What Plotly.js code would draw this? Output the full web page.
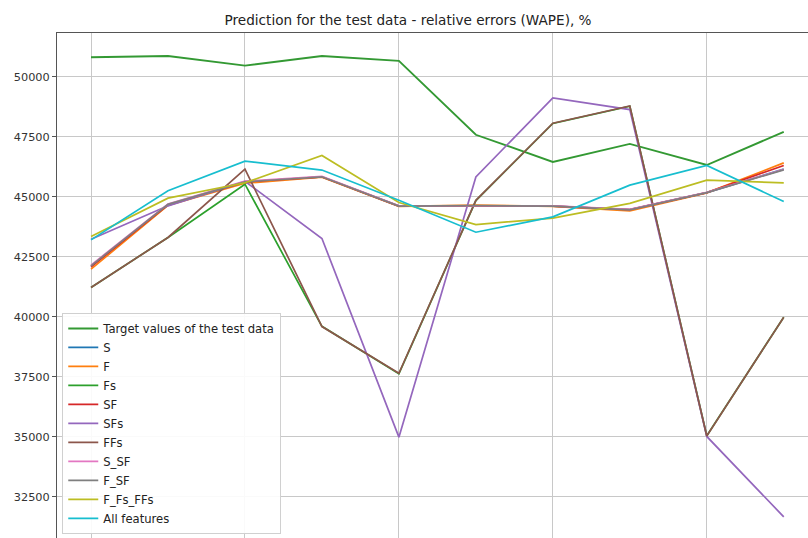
<!DOCTYPE html>
<html>
<head>
<meta charset="utf-8">
<script src="https://cdn.plot.ly/plotly-3.0.1.min.js"></script>
<style>html,body{margin:0;padding:0;background:#fff;}#chart{width:808px;height:538px;}</style>
</head>
<body>
<div id="chart"></div>
<script>
const xIdx = [0, 1, 2, 3, 4, 5, 6, 7, 8, 9];
const seriesNames = ["Target values of the test data", "S", "F", "Fs", "SF", "SFs", "FFs", "S_SF", "F_SF", "F_Fs_FFs", "All features"];
const target   = [50810, 50860, 50460, 50860, 50660, 47580, 46450, 47200, 46320, 47700];
const sS       = [42100, 44650, 45600, 45820, 44610, 44620, 44610, 44460, 45170, 46150];
const sF       = [41980, 44640, 45560, 45810, 44600, 44650, 44600, 44410, 45160, 46410];
const sFs      = [41220, 43300, 45520, 39600, 37620, 44840, 48050, 48770, 35040, 39980];
const sSF      = [42080, 44660, 45620, 45830, 44610, 44620, 44610, 44460, 45170, 46300];
const sSFs     = [43230, 44620, 45640, 43260, 34980, 45820, 49120, 48630, 35010, 31660];
const sFFs     = [41220, 43300, 46150, 39590, 37640, 44850, 48060, 48780, 35030, 39980];
const sS_SF    = [42150, 44700, 45650, 45850, 44620, 44620, 44620, 44470, 45180, 46140];
const sF_SF    = [42120, 44680, 45620, 45830, 44610, 44630, 44610, 44450, 45170, 46120];
const sFFsFFs  = [43340, 44940, 45580, 46720, 44760, 43840, 44110, 44720, 45690, 45580];
const sAll     = [43200, 45250, 46480, 46110, 44850, 43520, 44160, 45480, 46300, 44800];
const gridTicks = [0, 2, 4, 6, 8];
const yTicks = [32500, 35000, 37500, 40000, 42500, 45000, 47500, 50000];

const seriesValues = [target, sS, sF, sFs, sSF, sSFs, sFFs, sS_SF, sF_SF, sFFsFFs, sAll];
const colors = ["#339933", "#1f77b4", "#ff7f0e", "#2ca02c", "#d62728", "#9467bd", "#8c564b", "#e377c2", "#7f7f7f", "#bcbd22", "#17becf"];

const traces = seriesValues.map((vals, i) => ({
  x: xIdx, y: vals, type: "scatter", mode: "lines", name: seriesNames[i],
  line: {color: colors[i], width: i === 0 ? 1.9 : 1.7}
}));

const layout = {
  width: 808, height: 538,
  margin: {l: 57, r: 0, t: 33, b: 0},
  paper_bgcolor: "#fff", plot_bgcolor: "#fff",
  font: {family: "DejaVu Sans, sans-serif", color: "#333", size: 11},
  title: {text: "Prediction for the test data - relative errors (WAPE), %", x: 0.505, xanchor: "center", y: 0.962, yanchor: "middle", font: {size: 13.6, color: "#222"}},
  xaxis: {range: [-0.442, 9.315], tickvals: gridTicks, showticklabels: false, showgrid: true, gridcolor: "#c8c8c8", gridwidth: 1, zeroline: false, showline: true, mirror: true, linecolor: "#555", linewidth: 1, ticks: ""},
  yaxis: {range: [30779, 51821], tickvals: yTicks, ticktext: yTicks.map(String), showgrid: true, gridcolor: "#c8c8c8", gridwidth: 1, zeroline: false, showline: true, mirror: true, linecolor: "#555", linewidth: 1, ticks: "outside", ticklen: 4, tickcolor: "#555", tickfont: {size: 11.3, color: "#333"}},
  showlegend: true,
  legend: {x: 0.007, y: 0.008, xanchor: "left", yanchor: "bottom", bgcolor: "rgba(255,255,255,0.9)", bordercolor: "#d0d0d0", borderwidth: 1, font: {size: 11.6, color: "#222"}, tracegroupgap: 0}
};

Plotly.newPlot("chart", traces, layout, {displayModeBar: false, staticPlot: true});
</script>
</body>
</html>
